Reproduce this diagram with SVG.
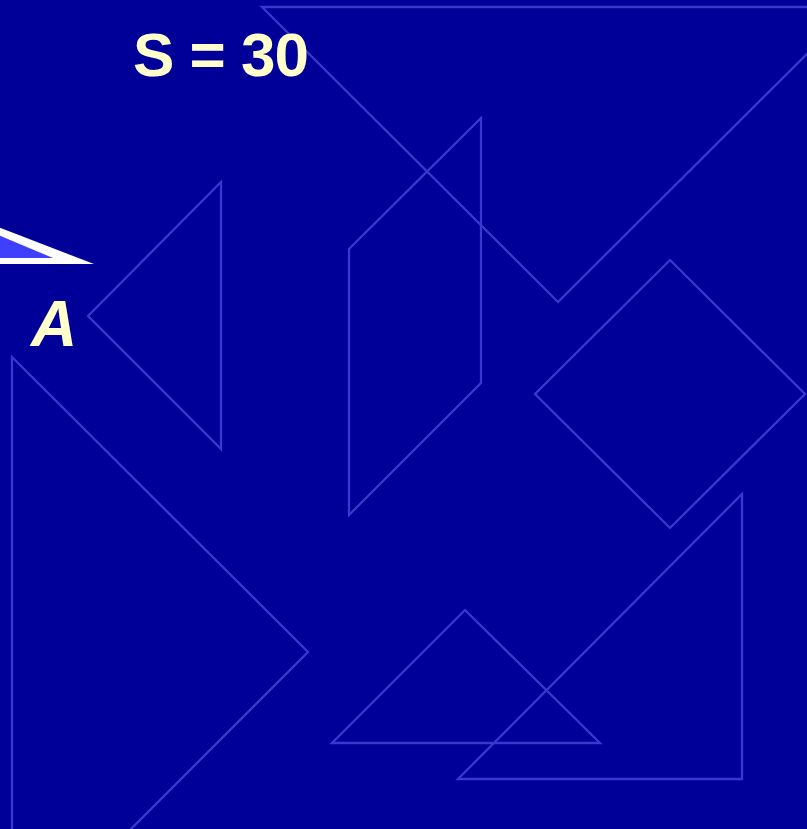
<svg xmlns="http://www.w3.org/2000/svg" width="807" height="829" viewBox="0 0 807 829">
<style>
.p{fill:none;stroke:#3939cc;stroke-width:2.3}
.t{fill:#ffffcc;font-family:"Liberation Sans",Arial,sans-serif;font-weight:bold}
</style>
<rect width="807" height="829" fill="#000099"/>
<g id="shapes">
<polygon id="bigTop" class="p" points="262,7 854,7 558,302"/>
<polygon id="smallLeft" class="p" points="88,316 221,182 221,449"/>
<polygon id="para" class="p" points="349,249 481,118 481,383 349,515"/>
<polygon id="square" class="p" points="670,260 805,394 670,528 535,394"/>
<polygon id="bigBottom" class="p" points="12,357 308,652 12,948"/>
<polygon id="smallBottom" class="p" points="332,743 465,610 600,743"/>
<polygon id="rightTri" class="p" points="742,494 742,779 458,779"/>
</g>
<g id="pointer">
<polygon points="-10,224 94,264 -10,264" fill="#ffffff"/>
<polygon points="-2,235 53,258 -2,258" fill="#3f3fff"/>
</g>
<text class="t" x="133" y="76" font-size="62" letter-spacing="-1">S = 30</text>
<text class="t" x="31" y="346" font-size="64" font-style="italic">A</text>
</svg>
